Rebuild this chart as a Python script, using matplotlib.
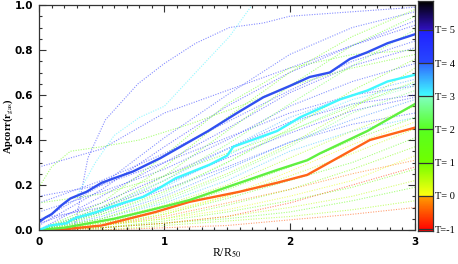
import numpy as np
import matplotlib
matplotlib.use('Agg')
import matplotlib.pyplot as plt
from matplotlib.colors import LinearSegmentedColormap
from matplotlib.ticker import MultipleLocator

plt.rcParams['mathtext.fontset'] = 'stix'

# colour scale (morphological type T)
T_MIN, T_MAX = -1.06, 5.87
cb_nodes = [(-1.06, '#ff0000'), (-0.02, '#ffa000'), (0.0, '#ffff10'), (1.0, '#70ff00'),
            (2.0, '#58ff20'), (3.0, '#80ffc0'), (3.02, '#40ffff'), (4.0, '#3068ff'),
            (4.02, '#2848ff'), (5.0, '#2020ff'), (5.02, '#3010c0'), (5.87, '#000000')]
cmap = LinearSegmentedColormap.from_list(
    'tcol', [((t - T_MIN) / (T_MAX - T_MIN), c) for t, c in cb_nodes])

def tcol(t):
    return cmap((t - T_MIN) / (T_MAX - T_MIN))

cb_ticks = [-1, 0, 1, 2, 3, 4, 5]
cb_labels = ['T=-1', 'T= 0', 'T= 1', 'T= 2', 'T= 3', 'T= 4', 'T= 5']

# individual galaxies: common radial grid
xg = [0, 0.5, 1.0, 1.5, 2.0, 2.5, 3.0]
grid_T = [4.6, 4.3, 4.8, 4.4, 4.7, 4.2, 4.5, 4.9, 4.6, 4.1, 3.8, 3.6,
          3.2, 3.4, 2.9, 2.5,
          1.6, 1.2, 1.8, 2.2, 1.0, 0.8, 1.5, 0.6, 1.3, 0.4, 1.7, 0.9, 0.2, 1.1, 0.5, 1.6, 0.7, 0.1,
          -0.3, -0.5, -0.7]
grid_y = [
    [0.28, 0.36, 0.52, 0.62, 0.72, 0.82, 0.93],
    [0.04, 0.20, 0.41, 0.60, 0.78, 0.90, 0.97],
    [0.02, 0.18, 0.37, 0.55, 0.70, 0.82, 0.91],
    [0.12, 0.22, 0.34, 0.48, 0.62, 0.75, 0.84],
    [0.00, 0.15, 0.30, 0.45, 0.61, 0.73, 0.81],
    [0.08, 0.17, 0.27, 0.40, 0.55, 0.66, 0.74],
    [0.15, 0.20, 0.30, 0.41, 0.52, 0.60, 0.64],
    [0.03, 0.12, 0.24, 0.36, 0.48, 0.56, 0.60],
    [0.05, 0.10, 0.20, 0.32, 0.43, 0.53, 0.59],
    [0.00, 0.08, 0.18, 0.28, 0.39, 0.47, 0.52],
    [0.00, 0.06, 0.15, 0.27, 0.39, 0.49, 0.58],
    [0.00, 0.10, 0.22, 0.36, 0.50, 0.60, 0.67],
    [0.00, 0.08, 0.19, 0.33, 0.47, 0.58, 0.65],
    [0.00, 0.05, 0.12, 0.22, 0.35, 0.44, 0.50],
    [0.00, 0.07, 0.16, 0.30, 0.44, 0.56, 0.64],
    [0.00, 0.05, 0.13, 0.24, 0.37, 0.52, 0.62],
    [0.00, 0.12, 0.33, 0.56, 0.72, 0.78, 0.80],
    [0.00, 0.10, 0.28, 0.50, 0.70, 0.86, 0.98],
    [0.00, 0.09, 0.24, 0.44, 0.64, 0.82, 0.95],
    [0.00, 0.08, 0.22, 0.38, 0.56, 0.73, 0.89],
    [0.00, 0.07, 0.17, 0.30, 0.45, 0.62, 0.76],
    [0.00, 0.05, 0.14, 0.25, 0.38, 0.54, 0.72],
    [0.12, 0.16, 0.24, 0.34, 0.44, 0.55, 0.66],
    [0.00, 0.04, 0.11, 0.20, 0.32, 0.44, 0.55],
    [0.00, 0.03, 0.09, 0.18, 0.28, 0.40, 0.50],
    [0.00, 0.03, 0.08, 0.15, 0.24, 0.34, 0.45],
    [0.00, 0.02, 0.07, 0.14, 0.22, 0.30, 0.41],
    [0.00, 0.02, 0.05, 0.11, 0.18, 0.27, 0.37],
    [0.00, 0.02, 0.05, 0.09, 0.15, 0.22, 0.33],
    [0.00, 0.01, 0.04, 0.08, 0.13, 0.19, 0.27],
    [0.00, 0.01, 0.03, 0.06, 0.10, 0.15, 0.22],
    [0.00, 0.01, 0.03, 0.05, 0.08, 0.13, 0.19],
    [0.00, 0.00, 0.02, 0.04, 0.06, 0.09, 0.13],
    [0.00, 0.02, 0.07, 0.15, 0.26, 0.38, 0.48],
    [0.00, 0.02, 0.06, 0.12, 0.18, 0.25, 0.31],
    [0.00, 0.00, 0.01, 0.02, 0.045, 0.07, 0.10],
    [0.00, 0.01, 0.03, 0.06, 0.12, 0.20, 0.28],
]

# galaxies with their own sampling
steep_blue_x = [0.28, 0.39, 0.53, 0.79, 1.0, 1.25, 1.52, 1.79, 2.0, 2.5, 3.0]
steep_blue_y = [0.0, 0.32, 0.49, 0.65, 0.74, 0.83, 0.90, 0.92, 0.95, 0.97, 0.99]
steep_cyan_x = [0.3, 0.45, 0.6, 0.8, 1.0, 1.25, 1.52, 1.7]
steep_cyan_y = [0.15, 0.30, 0.42, 0.50, 0.55, 0.70, 0.86, 1.0]
hump_green_x = [0, 0.1, 0.25, 0.5, 0.8, 1.2, 1.6, 2.0, 2.5, 3.0]
hump_green_y = [0.19, 0.28, 0.35, 0.37, 0.40, 0.47, 0.55, 0.64, 0.72, 0.78]

# median profiles per type bin
med_blue_x = [0, 0.05, 0.1, 0.18, 0.25, 0.38, 0.5, 0.55, 0.65, 0.75, 0.97, 1.35, 1.58,
              1.79, 2.0, 2.16, 2.24, 2.32, 2.48, 2.62, 2.78, 3.0]
med_blue_y = [0.035, 0.055, 0.07, 0.11, 0.14, 0.17, 0.21, 0.22, 0.24, 0.26, 0.32, 0.44, 0.52,
              0.59, 0.64, 0.68, 0.69, 0.70, 0.76, 0.79, 0.83, 0.87]
med_cyan_x = [0, 0.09, 0.22, 0.26, 0.3, 0.38, 0.46, 0.54, 0.7, 0.83, 0.97, 1.09, 1.36, 1.5,
              1.55, 1.9, 2.08, 2.4, 2.62, 2.78, 3.0]
med_cyan_y = [0.0, 0.02, 0.03, 0.045, 0.055, 0.067, 0.08, 0.097, 0.125, 0.147, 0.19, 0.23,
              0.29, 0.33, 0.37, 0.44, 0.50, 0.58, 0.62, 0.66, 0.69]
med_green_x = [0, 0.2, 0.4, 0.6, 0.9, 1.2, 1.55, 1.9, 2.14, 2.24, 2.62, 3.0]
med_green_y = [0, 0.01, 0.03, 0.05, 0.09, 0.133, 0.20, 0.267, 0.31, 0.34, 0.44, 0.56]
med_orange_x = [0, 0.2, 0.5, 0.93, 1.2, 1.6, 1.9, 2.14, 2.64, 3.0]
med_orange_y = [0, 0.003, 0.02, 0.08, 0.125, 0.17, 0.21, 0.245, 0.40, 0.455]

fig = plt.figure(figsize=(4.58, 2.64), dpi=100)
ax = fig.add_axes([39 / 458, 1 - 230 / 264, 376 / 458, 225 / 264])

kw = dict(ls=(0, (1, 1.3)), lw=0.8, alpha=0.55)
for t, ys in zip(grid_T, grid_y):
    ax.plot(xg, ys, color=tcol(t), **kw)
ax.plot(steep_blue_x, steep_blue_y, color=tcol(4.6), **kw)
ax.plot(steep_cyan_x, steep_cyan_y, color=tcol(3.1), **kw)
ax.plot(hump_green_x, hump_green_y, color=tcol(1.4), **kw)

ax.plot(med_orange_x, med_orange_y, color='#ff6418', lw=1.7)
ax.plot(med_green_x, med_green_y, color='#60f040', lw=1.7)
ax.plot(med_cyan_x, med_cyan_y, color='#40f8ff', lw=1.7)
ax.plot(med_blue_x, med_blue_y, color='#3050f0', lw=1.7)

ax.set_xlim(0, 3)
ax.set_ylim(0, 1.0)
ax.xaxis.set_major_locator(MultipleLocator(1))
ax.xaxis.set_minor_locator(MultipleLocator(0.1))
ax.yaxis.set_major_locator(MultipleLocator(0.2))
ax.yaxis.set_minor_locator(MultipleLocator(0.05))
ax.tick_params(which='both', direction='in', top=True, right=True, width=0.8, color='#333333')
ax.tick_params(which='major', length=5, labelsize=7.5, pad=4)
ax.tick_params(axis='x', which='major', pad=5)
ax.tick_params(which='minor', length=2.5)
ax.set_yticks([0, 0.2, 0.4, 0.6, 0.8, 1.0])
ax.set_yticklabels(['0.0', '0.2', '0.4', '0.6', '0.8', '1.0'], fontweight='bold')
ax.set_xticks([0, 1, 2, 3])
ax.set_xticklabels(['0', '1', '2', '3'], fontweight='bold')
for sp in ax.spines.values():
    sp.set_linewidth(0.9)
    sp.set_color('#333333')
ax.set_xlabel('R/R$_{50}$', family='Liberation Serif', fontsize=8.5, labelpad=0)
ax.set_ylabel('Apcorr(r$_{\\rm gas}$)', family='Liberation Serif', fontsize=7.5,
              fontweight='bold')
ax.yaxis.set_label_coords(-0.064, 0.46)

# colour bar
cax = fig.add_axes([418 / 458, 1 - 231 / 264, 15 / 458, 230 / 264])
grad = np.linspace(T_MIN, T_MAX, 400).reshape(-1, 1)
cax.imshow(grad, aspect='auto', origin='lower', cmap=cmap,
           extent=[0, 1, T_MIN, T_MAX], vmin=T_MIN, vmax=T_MAX)
for t in cb_ticks:
    cax.axhline(t, color='#333333', lw=0.9)
cax.set_xlim(0, 1)
cax.set_ylim(T_MIN, T_MAX)
cax.set_xticks([])
cax.yaxis.tick_right()
cax.set_yticks(cb_ticks)
cax.set_yticklabels(cb_labels, family='Liberation Serif', fontsize=7.5)
cax.tick_params(axis='y', length=0, pad=1.5)
for sp in cax.spines.values():
    sp.set_linewidth(0.9)
    sp.set_color('#333333')

fig.savefig('out.png', dpi=100)
